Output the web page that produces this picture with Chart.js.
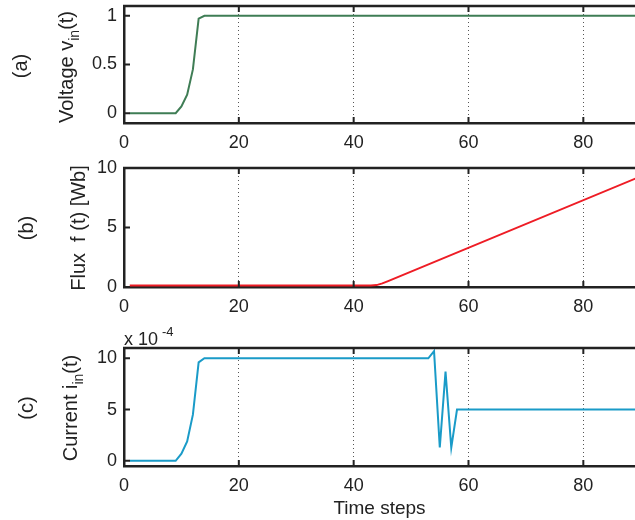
<!DOCTYPE html>
<html lang="en">
<head>
  <meta charset="UTF-8">
  <title>Voltage, flux and current</title>
  <script src="https://cdn.jsdelivr.net/npm/chart.js"></script>
  <style>
    body { margin: 0; background: #fff; font-family: "Liberation Sans", Arial, sans-serif; color: #222; }
    #wrap { position: relative; width: 635px; height: 520px; overflow: hidden; }
    canvas { position: absolute; left: 0; }
    .lbl { position: absolute; white-space: nowrap; font-size: 20px; transform: translate(-50%, -50%) rotate(-90deg); }
    .lbl sub { font-size: 14px; vertical-align: -6px; }
    .mult { position: absolute; left: 124px; top: 324px; font-size: 18px; white-space: nowrap; }
    .mult sup { font-size: 13px; vertical-align: 9px; margin-left: 4px; }
  </style>
</head>
<body>
  <div id="wrap">
    <canvas id="chartA" width="635" height="160" style="top:0"></canvas>
    <canvas id="chartB" width="635" height="160" style="top:160px"></canvas>
    <canvas id="chartC" width="635" height="200" style="top:320px"></canvas>

    <div class="lbl" style="left:20px; top:66px">(a)</div>
    <div class="lbl" style="left:68px; top:67px">Voltage v<sub>in</sub>(t)</div>
    <div class="lbl" style="left:26px; top:228px">(b)</div>
    <div class="lbl" style="left:78px; top:228px">Flux &nbsp;f (t) [Wb]</div>
    <div class="lbl" style="left:26px; top:408px">(c)</div>
    <div class="lbl" style="left:72px; top:408px">Current i<sub>in</sub>(t)</div>
    <div class="mult">x 10<sup>-4</sup></div>
  </div>

  <script>
    // time steps shared by all panels
    const xTicks = [0, 20, 40, 60, 80];

    // (a) input voltage
    const voltSteps = [1, 9, 10, 11, 12, 13, 14, 100];
    const voltage   = [0, 0, 0.07, 0.19, 0.45, 0.97, 1, 1];
    const voltTicks = [0, 0.5, 1];

    // (b) flux
    const fluxSteps = [1, 43, 44, 45, 46, 100];
    const flux      = [0.12, 0.12, 0.16, 0.3, 0.5, 11.3];
    const fluxTicks = [0, 5, 10];

    // (c) input current (x 10^-4)
    const currSteps = [1, 9, 10, 11, 12, 13, 14, 53, 54, 55, 56, 57, 58, 100];
    const current   = [0, 0, 0.7, 1.9, 4.5, 9.6, 10, 10, 10.7, 1.3, 8.7, 1.3, 5, 5];
    const currTicks = [0, 5, 10];

    const tickFont = { family: "Liberation Sans", size: 18 };

    // top box line + matlab style tick marks pointing into the axes box
    const innerTicks = {
      id: 'innerTicks',
      afterDraw(chart) {
        const { ctx, chartArea: a, scales } = chart;
        ctx.save();
        ctx.strokeStyle = '#222';
        ctx.lineWidth = 2.5;
        ctx.beginPath();
        ctx.moveTo(a.left - 1, a.top); ctx.lineTo(a.right, a.top);
        ctx.stroke();
        ctx.lineWidth = 2;
        ctx.beginPath();
        xTicks.forEach(v => {
          const px = scales.x.getPixelForValue(v);
          ctx.moveTo(px, a.bottom); ctx.lineTo(px, a.bottom - 6);
          ctx.moveTo(px, a.top); ctx.lineTo(px, a.top + 6);
        });
        scales.y.ticks.forEach(t => {
          const py = scales.y.getPixelForValue(t.value);
          ctx.moveTo(a.left, py); ctx.lineTo(a.left + 6, py);
        });
        ctx.stroke();
        ctx.restore();
      }
    };

    function makePanel(id, steps, values, color, yMin, yMax, yTicks, padTop, xHeight, xTitle) {
      const pts = steps.map((s, i) => ({ x: s, y: values[i] }));
      return new Chart(document.getElementById(id), {
        type: 'line',
        data: {
          datasets: [{
            data: pts,
            borderColor: color,
            borderWidth: 2,
            pointRadius: 0,
            tension: 0
          }]
        },
        options: {
          responsive: false,
          animation: false,
          layout: { autoPadding: false, padding: { top: padTop, left: 0, right: 0, bottom: 0 } },
          plugins: { legend: { display: false }, tooltip: { enabled: false } },
          scales: {
            x: {
              type: 'linear', min: 0, max: 89,
              afterBuildTicks: s => { s.ticks = xTicks.map(v => ({ value: v })); },
              afterFit: s => { s.height = xHeight; s.paddingLeft = 0; s.paddingRight = 0; },
              ticks: { font: tickFont, color: '#222', padding: 9, maxRotation: 0, callback: v => String(v) },
              grid: { color: '#555', drawTicks: false, lineWidth: 1 },
              border: { color: '#222', width: 2.5, dash: [1, 3] },
              title: xTitle ? { display: true, text: xTitle, font: { family: "Liberation Sans", size: 19 }, color: '#222', padding: 0 } : { display: false }
            },
            y: {
              min: yMin, max: yMax,
              afterBuildTicks: s => { s.ticks = yTicks.map(v => ({ value: v })); },
              afterFit: s => { s.width = 124; s.paddingTop = 0; s.paddingBottom = 0; },
              ticks: { font: tickFont, color: '#222', padding: 7, callback: v => String(v) },
              grid: { display: false, drawTicks: false },
              border: { color: '#222', width: 2.5 }
            }
          }
        },
        plugins: [innerTicks]
      });
    }

    makePanel('chartA', voltSteps, voltage, '#3f7d55', -0.1, 1.1, voltTicks, 6, 37, null);
    makePanel('chartB', fluxSteps, flux, '#ee1c25', 0, 10, fluxTicks, 8, 33, null);
    makePanel('chartC', currSteps, current, '#1a9bc8', -0.5, 11, currTicks, 28, 54, 'Time steps');
  </script>
</body>
</html>
